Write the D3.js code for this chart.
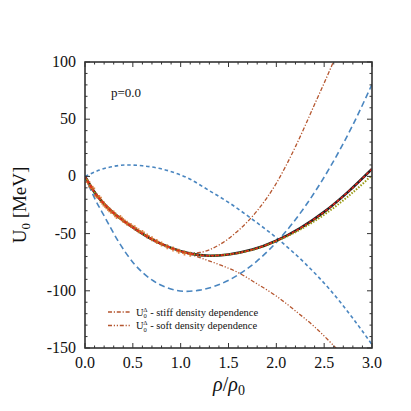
<!DOCTYPE html>
<html><head><meta charset="utf-8">
<script src="https://cdn.jsdelivr.net/npm/d3@7"></script>
<style>body{margin:0;background:#fff}svg{display:block}</style>
</head><body><svg id="c" width="411" height="411" font-family="'Liberation Serif', 'DejaVu Serif', serif"></svg>
<script>
// data
const xTicks = [0.0, 0.5, 1.0, 1.5, 2.0, 2.5, 3.0];
const yTicks = [100, 50, 0, -50, -100, -150];
const mainRho = [0, 0.1, 0.2, 0.35, 0.5, 0.7, 0.9, 1.1, 1.3, 1.5, 1.75, 2.0, 2.25, 2.5, 2.75, 3.0];
const mainU   = [0, -14, -24, -35.5, -44.5, -55, -62.5, -67.5, -69.3, -68.2, -64, -56.2, -45.2, -31, -13.5, 6.5];
const oliveU  = [0, -14, -24, -35.5, -44.5, -55, -62.5, -67.5, -69.3, -68.2, -64.2, -56.6, -46.5, -33.5, -17.5, 1];
const upperRho = [0, 0.15, 0.3, 0.44, 0.6, 0.87, 1.1, 1.29, 1.515, 1.725, 2.02, 2.3, 2.56, 2.8, 3.0];
const upperU   = [0, 5.5, 8.8, 10, 9.3, 5, -2.5, -12, -23.5, -36, -55, -76, -99, -124, -147];
const lowerRho = [0, 0.1, 0.21, 0.35, 0.52, 0.7, 0.85, 1.05, 1.2, 1.515, 1.8, 2.04, 2.3, 2.56, 2.8, 3.0];
const lowerU   = [0, -19, -36, -57, -77, -90.5, -97, -100.5, -99.4, -90.2, -73.8, -54, -26.3, 7.8, 45, 80.5];
const stiffRho = [0, 0.2, 0.5, 0.9, 1.1, 1.2, 1.4, 1.6, 1.8, 2.0, 2.2, 2.4, 2.6, 2.7];
const stiffU   = [0, -24, -44.5, -62.5, -67, -66.5, -60, -47.5, -30, -6, 26, 63, 101, 122];
const softRho  = [0, 0.2, 0.5, 0.9, 1.1, 1.2, 1.4, 1.6, 1.8, 2.0, 2.2, 2.4, 2.6, 2.7];
const softU    = [0, -24, -44.5, -62.5, -68, -71, -77, -84, -94, -104.6, -117.6, -131.5, -148, -156.6];
const scatterRho = [0.03,0.06,0.08,0.12,0.15,0.18,0.21,0.24,0.27,0.3,0.33,0.37,0.4,0.44,0.48,0.52,0.56,0.6,0.65,0.7,0.75,0.8,0.86,0.92,0.98,1.04,1.1];
const scatterU   = [-5,-9,-10.5,-17,-18.5,-22.5,-25.5,-28,-30.5,-32,-35,-36,-38.5,-41,-43,-45,-47.5,-49,-52,-54.5,-57,-59,-61.5,-63.5,-65.5,-67,-68];
const legendLabels = ["stiff density dependence", "soft density dependence"];

const svg = d3.select("#c");
const FONT = "'Liberation Serif', 'DejaVu Serif', serif";
const L = 85, R = 372, T = 62, B = 348;
const x = d3.scaleLinear().domain([0, 3]).range([L, R]);
const y = d3.scaleLinear().domain([-150, 100]).range([B, T]);

svg.append("clipPath").attr("id","clip").append("rect").attr("x",L).attr("y",T).attr("width",R-L).attr("height",B-T);
const g = svg.append("g").attr("clip-path","url(#clip)");
const line = d3.line().x(d=>x(d[0])).y(d=>y(d[1])).curve(d3.curveMonotoneX);
const zip = (a,b)=>a.map((v,i)=>[v,b[i]]);

const brown = "#b5562f", blue = "#4a86c0";
g.append("path").attr("d", line(zip(upperRho, upperU))).attr("fill","none").attr("stroke",blue).attr("stroke-width",1.6).attr("stroke-dasharray","3.5,2.8");
g.append("path").attr("d", line(zip(lowerRho, lowerU))).attr("fill","none").attr("stroke",blue).attr("stroke-width",1.6).attr("stroke-dasharray","6,3.5");
g.append("path").attr("d", line(zip(stiffRho, stiffU))).attr("fill","none").attr("stroke",brown).attr("stroke-width",1.3).attr("stroke-dasharray","4,1.8,1.2,1.8");
g.append("path").attr("d", line(zip(softRho, softU))).attr("fill","none").attr("stroke",brown).attr("stroke-width",1.3).attr("stroke-dasharray","4,1.8,1.2,1.8,1.2,1.8");
g.append("path").attr("d", line(zip(mainRho, mainU))).attr("fill","none").attr("stroke","#222").attr("stroke-width",2.6);
g.append("path").attr("d", line(zip(mainRho, oliveU))).attr("fill","none").attr("stroke","#9a9a12").attr("stroke-width",2).attr("stroke-dasharray","1.5,1.5");
g.selectAll("path.sc").data(zip(scatterRho, scatterU)).enter().append("path")
  .attr("d", d3.symbol(d3.symbolCross, 14)).attr("transform", d=>`translate(${x(d[0])},${y(d[1])})`).attr("fill","#d9702a").attr("opacity",0.85);
g.append("path").attr("d", line(zip(mainRho, mainU))).attr("fill","none").attr("stroke","#e8231a").attr("stroke-width",1.4).attr("stroke-dasharray","3,2");

// axes frame & ticks
const ax = svg.append("g").attr("stroke","#333");
ax.append("rect").attr("x",L).attr("y",T).attr("width",R-L).attr("height",B-T).attr("fill","none").attr("stroke-width",1.6);
const xMinor = d3.range(0, 3.0001, 0.1);
const yMinor = d3.range(-150, 100.001, 10);
xMinor.forEach(v=>{ const big = xTicks.some(t=>Math.abs(t-v)<1e-6); const len = big?5:2.5;
  ax.append("line").attr("x1",x(v)).attr("x2",x(v)).attr("y1",B).attr("y2",B-len).attr("stroke-width",1);
  ax.append("line").attr("x1",x(v)).attr("x2",x(v)).attr("y1",T).attr("y2",T+len).attr("stroke-width",1);});
yMinor.forEach(v=>{ const big = yTicks.some(t=>Math.abs(t-v)<1e-6); const len = big?5:2.5;
  ax.append("line").attr("y1",y(v)).attr("y2",y(v)).attr("x1",L).attr("x2",L+len).attr("stroke-width",1);
  ax.append("line").attr("y1",y(v)).attr("y2",y(v)).attr("x1",R).attr("x2",R-len).attr("stroke-width",1);});

const txt = (sel)=>sel.style("font-family", FONT).attr("fill","#111");
txt(svg.selectAll("text.xt").data(xTicks).enter().append("text")).attr("x",d=>x(d)).attr("y",368).attr("text-anchor","middle").attr("font-size",16).text(d=>d.toFixed(1));
txt(svg.selectAll("text.yt").data(yTicks).enter().append("text")).attr("x",76).attr("y",d=>y(d)+5).attr("text-anchor","end").attr("font-size",16).text(d=>d);

// labels
const yl = txt(svg.append("text")).attr("transform","translate(26,205) rotate(-90)").attr("text-anchor","middle").attr("font-size",19);
yl.append("tspan").text("U");
yl.append("tspan").attr("font-size",13).attr("dy",4).text("0");
yl.append("tspan").attr("dy",-4).text(" [MeV]");
const xl = txt(svg.append("text")).attr("x",229).attr("y",391).attr("text-anchor","middle").attr("font-size",20);
xl.append("tspan").attr("font-style","italic").text("ρ");
xl.append("tspan").text("/");
xl.append("tspan").attr("font-style","italic").text("ρ");
xl.append("tspan").attr("font-size",14).attr("dy",4).text("0");
txt(svg.append("text")).attr("x",111).attr("y",97).attr("font-size",13).text("p=0.0");

// legend
const dashes = ["4,1.8,1.2,1.8", "4,1.8,1.2,1.8,1.2,1.8"];
legendLabels.forEach((lab,i)=>{
  const yy = 312 + i*13.5;
  svg.append("line").attr("x1",108).attr("x2",131).attr("y1",yy).attr("y2",yy).attr("stroke",brown).attr("stroke-width",1.3).attr("stroke-dasharray",dashes[i]);
  const t = txt(svg.append("text")).attr("x",136).attr("y",yy+3.5).attr("font-size",10.5);
  t.append("tspan").text("U");
  t.append("tspan").attr("font-size",6.5).attr("dy",2.5).text("0");
  t.append("tspan").attr("font-size",6.5).attr("dx",-3.5).attr("dy",-6.5).text("Δ");
  t.append("tspan").attr("dy",4).text(" - " + lab);
});
</script></body></html>
